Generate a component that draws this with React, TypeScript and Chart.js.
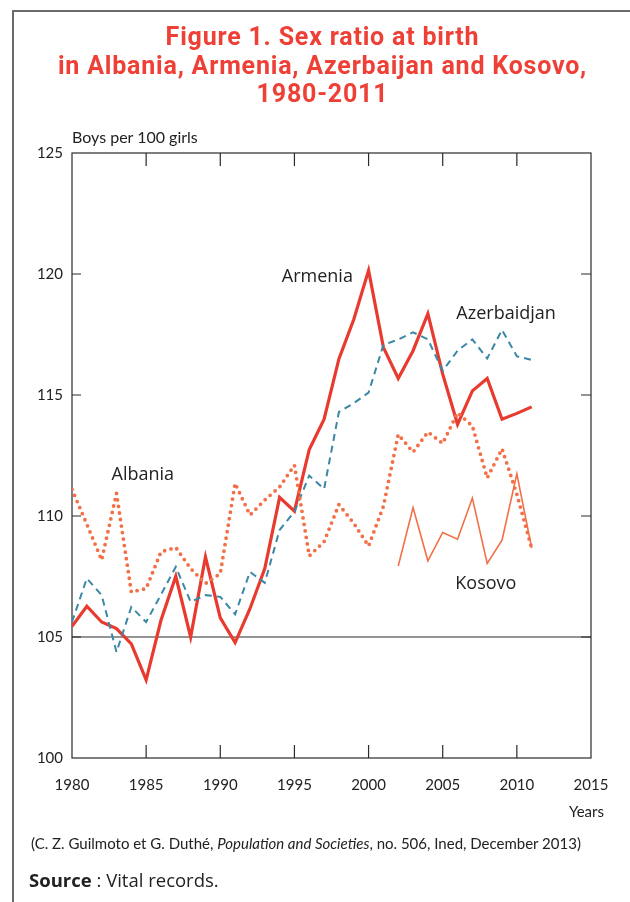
import React, { useEffect, useRef } from "react";
import { Chart, registerables } from "chart.js";

Chart.register(...registerables);

// ---- Data ----
const years = [
  1980, 1981, 1982, 1983, 1984, 1985, 1986, 1987, 1988, 1989, 1990, 1991, 1992, 1993, 1994, 1995,
  1996, 1997, 1998, 1999, 2000, 2001, 2002, 2003, 2004, 2005, 2006, 2007, 2008, 2009, 2010, 2011,
];
const armenia = [
  105.44, 106.27, 105.62, 105.35, 104.72, 103.23, 105.69, 107.51, 105.0, 108.31, 105.79, 104.77, 106.17, 107.83, 110.77, 110.2,
  112.75, 114.0, 116.49, 118.12, 120.15, 116.97, 115.68, 116.83, 118.36, 115.86, 113.79, 115.17, 115.68, 114.0, 114.24, 114.51,
];
const azerbaijan = [
  105.62, 107.42, 106.73, 104.38, 106.24, 105.62, 106.75, 107.9, 106.45, 106.73, 106.66, 105.94, 107.69, 107.24, 109.42, 110.18,
  111.67, 111.12, 114.3, 114.66, 115.1, 117.07, 117.29, 117.59, 117.3, 116.0, 116.83, 117.3, 116.51, 117.69, 116.6, 116.45,
];
const albania = [
  111.1, 109.66, 108.18, 110.94, 106.86, 107.0, 108.52, 108.7, 107.83, 107.21, 107.62, 111.35, 110.04, 110.66, 111.2, 112.1,
  108.35, 108.94, 110.47, 109.7, 108.76, 110.4, 113.37, 112.64, 113.47, 113.0, 114.27, 113.72, 111.57, 112.78, 110.9, 108.67,
];
const kosovoYears = [2002, 2003, 2004, 2005, 2006, 2007, 2008, 2009, 2010, 2011];
const kosovo = [107.93, 110.35, 108.15, 109.32, 109.04, 110.74, 108.04, 109.0, 111.74, 108.67];

const xTicks = [1980, 1985, 1990, 1995, 2000, 2005, 2010, 2015];
const yTicks = [100, 105, 110, 115, 120, 125];
const referenceLine = 105;

const seriesLabels = ["Albania", "Armenia", "Azerbaidjan", "Kosovo"];
const labelX = [1982.67, 1994.15, 2005.92, 2005.85];
const labelY = [111.49, 119.67, 118.14, 106.97];

const titleLines = [
  "Figure 1. Sex ratio at birth",
  "in Albania, Armenia, Azerbaijan and Kosovo,",
  "1980-2011",
];

const pts = (xs: number[], ys: number[]) => xs.map((x, i) => ({ x, y: ys[i] }));

const framePlugin = {
  id: "frameBox",
  beforeDatasetsDraw(chart: any) {
    const { ctx, chartArea: a, scales } = chart;
    const x = scales.x;
    const y = scales.y;
    ctx.save();
    ctx.strokeStyle = "#2a2a2a";
    ctx.lineWidth = 1.2;
    // reference line
    const yr = y.getPixelForValue(referenceLine);
    ctx.beginPath();
    ctx.moveTo(a.left, yr);
    ctx.lineTo(a.right, yr);
    ctx.stroke();
    // box
    ctx.strokeRect(a.left, a.top, a.right - a.left, a.bottom - a.top);
    // inward tick marks
    ctx.beginPath();
    x.ticks.forEach((t: any) => {
      if (t.value <= x.min || t.value >= x.max) return;
      const px = x.getPixelForValue(t.value);
      ctx.moveTo(px, a.bottom);
      ctx.lineTo(px, a.bottom - 13);
      ctx.moveTo(px, a.top);
      ctx.lineTo(px, a.top + 13);
    });
    y.ticks.forEach((t: any) => {
      if (t.value <= y.min || t.value >= y.max) return;
      const py = y.getPixelForValue(t.value);
      ctx.moveTo(a.left, py);
      ctx.lineTo(a.left + 9, py);
      ctx.moveTo(a.right, py);
      ctx.lineTo(a.right - 10, py);
    });
    ctx.stroke();
    ctx.restore();
  },
  afterDatasetsDraw(chart: any) {
    const { ctx, scales } = chart;
    ctx.save();
    ctx.fillStyle = "#222222";
    ctx.font = "18px 'Open Sans'";
    ctx.textAlign = "left";
    ctx.textBaseline = "alphabetic";
    seriesLabels.forEach((s, i) => {
      ctx.fillText(s, scales.x.getPixelForValue(labelX[i]), scales.y.getPixelForValue(labelY[i]));
    });
    ctx.restore();
  },
};

export default function App() {
  const canvasRef = useRef<HTMLCanvasElement | null>(null);

  useEffect(() => {
    document.body.style.margin = "0";
    const canvas = canvasRef.current;
    if (!canvas) return;
    const tickFont = { family: "Lato", size: 15 };
    const chart = new Chart(canvas, {
      type: "line",
      data: {
        datasets: [
          {
            label: "Albania",
            data: pts(years, albania),
            borderColor: "#f26f47",
            borderWidth: 3.8,
            borderDash: [0, 6.6],
            borderCapStyle: "round",
            pointRadius: 0,
            tension: 0,
          },
          {
            label: "Kosovo",
            data: pts(kosovoYears, kosovo),
            borderColor: "#f26f47",
            borderWidth: 1.6,
            pointRadius: 0,
            tension: 0,
          },
          {
            label: "Azerbaijan",
            data: pts(years, azerbaijan),
            borderColor: "#3b87a6",
            borderWidth: 2,
            borderDash: [7, 5],
            pointRadius: 0,
            tension: 0,
          },
          {
            label: "Armenia",
            data: pts(years, armenia),
            borderColor: "#e83a2f",
            borderWidth: 3.2,
            borderJoinStyle: "miter",
            pointRadius: 0,
            tension: 0,
          },
        ],
      } as any,
      options: {
        animation: false,
        responsive: false,
        maintainAspectRatio: false,
        layout: { padding: { top: 153, right: 39, bottom: 0, left: 0 } },
        plugins: {
          legend: { display: false },
          tooltip: { enabled: false },
          title: { display: false },
        },
        scales: {
          x: {
            type: "linear",
            min: 1980,
            max: 2015,
            grid: { display: false, drawTicks: false },
            border: { display: false },
            afterBuildTicks: (s: any) => {
              s.ticks = xTicks.map((v) => ({ value: v }));
            },
            afterFit: (s: any) => {
              s.height = 144;
              s.paddingLeft = 0;
              s.paddingRight = 0;
            },
            ticks: {
              font: tickFont,
              color: "#222222",
              padding: 18,
              maxRotation: 0,
              autoSkip: false,
              callback: (v: any) => String(v),
            },
          },
          y: {
            type: "linear",
            min: 100,
            max: 125,
            grid: { display: false, drawTicks: false },
            border: { display: false },
            afterBuildTicks: (s: any) => {
              s.ticks = yTicks.map((v) => ({ value: v }));
            },
            afterFit: (s: any) => {
              s.width = 72;
              s.paddingTop = 0;
              s.paddingBottom = 0;
            },
            ticks: {
              font: tickFont,
              color: "#222222",
              padding: 9,
              autoSkip: false,
              callback: (v: any) => String(v),
            },
          },
        },
      } as any,
      plugins: [framePlugin as any],
    });
    return () => chart.destroy();
  }, []);

  return (
    <div style={{ position: "relative", width: 630, height: 902, overflow: "hidden", background: "#fff" }}>
      <div
        style={{
          position: "absolute",
          left: 12,
          top: 10,
          width: 640,
          height: 900,
          borderLeft: "2px solid #6a6a6a",
          borderTop: "2px solid #6a6a6a",
        }}
      />
      <canvas
        ref={canvasRef}
        width={630}
        height={902}
        style={{ position: "absolute", left: 0, top: 0, width: 630, height: 902 }}
      />
      <div
        style={{
          position: "absolute",
          left: 0,
          top: 23,
          width: 645,
          textAlign: "center",
          color: "#ee4036",
          fontFamily: "Roboto",
          fontWeight: 700,
          fontSize: 25,
          letterSpacing: "0.8px",
          lineHeight: "28.5px",
          whiteSpace: "nowrap",
        }}
      >
        {titleLines.map((l, i) => (
          <div key={i}>{l}</div>
        ))}
      </div>
      <div
        style={{
          position: "absolute",
          left: 72,
          top: 127,
          fontFamily: "Lato",
          fontSize: 16,
          lineHeight: 1.2,
          color: "#222",
          whiteSpace: "nowrap",
        }}
      >
        Boys per 100 girls
      </div>
      <div
        style={{
          position: "absolute",
          right: 26,
          top: 802,
          fontFamily: "Lato",
          fontSize: 15,
          lineHeight: 1.2,
          color: "#222",
        }}
      >
        Years
      </div>
      <div
        style={{
          position: "absolute",
          left: 31,
          top: 834,
          fontFamily: "Lato",
          fontSize: 15,
          lineHeight: 1.2,
          color: "#222",
          whiteSpace: "nowrap",
        }}
      >
        (C. Z. Guilmoto et G. Duthé, <i>Population and Societies</i>, no. 506, Ined, December 2013)
      </div>
      <div
        style={{
          position: "absolute",
          left: 29,
          top: 868,
          fontFamily: "'Open Sans'",
          fontSize: 18.5,
          lineHeight: 1.3,
          color: "#222",
          whiteSpace: "nowrap",
        }}
      >
        <b>Source</b> : Vital records.
      </div>
    </div>
  );
}
